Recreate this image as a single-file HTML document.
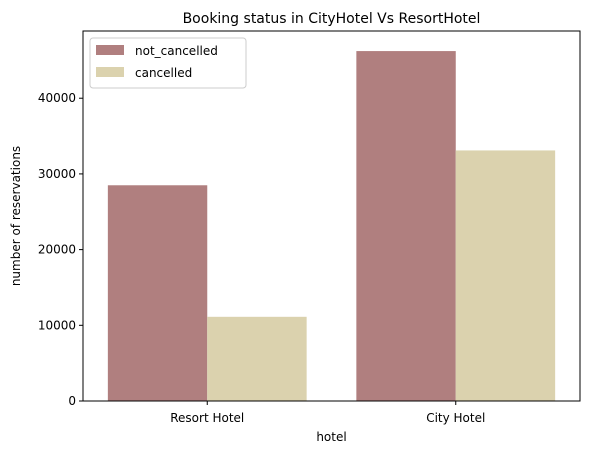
<!DOCTYPE html>
<html><head><meta charset="utf-8"><style>
body{margin:0;background:#fff;font-family:"Liberation Sans","DejaVu Sans",sans-serif}
</style></head><body>
<svg id="chart" width="589" height="455" xmlns="http://www.w3.org/2000/svg" font-family="DejaVu Sans, Liberation Sans, sans-serif">
</svg>
<script>
const categories = ["Resort Hotel", "City Hotel"];
const notCancelled = [28500, 46228];
const cancelled = [11122, 33102];
const yTicks = [0, 10000, 20000, 30000, 40000];
const seriesNames = ["not_cancelled", "cancelled"];

const svg = document.getElementById('chart');
const NS = 'http://www.w3.org/2000/svg';
const L = 83, R = 580, T = 31, B = 401;
const yMax = 48880;
const y = v => B - v / yMax * (B - T);
const x = i => L + (i + 0.5) / 2 * (R - L);
const bw = (R - L) / 2 * 0.4;
const colors = ["#b07f7f", "#dbd2ae"];

function mk(tag, attrs, parent) {
  const e = document.createElementNS(NS, tag);
  for (const k in attrs) e.setAttribute(k, attrs[k]);
  (parent || svg).appendChild(e);
  return e;
}

const title = mk('text', {x: (L + R) / 2, y: 23, 'text-anchor': 'middle', 'font-size': 14, fill: '#000'});
title.textContent = 'Booking status in CityHotel Vs ResortHotel';



[notCancelled, cancelled].forEach((series, s) => {
  series.forEach((v, i) => {
    const r = mk('rect', {x: x(i) - bw + s * bw, y: y(v), width: bw, height: B - y(v), fill: colors[s]});
    
    
  });
});

const frame = mk('rect', {x: L, y: T, width: R - L, height: B - T, fill: 'none', stroke: '#000', 'stroke-width': 1});



yTicks.forEach(t => {
  mk('line', {x1: L - 4, x2: L, y1: y(t), y2: y(t), stroke: '#000'});
  const lb = mk('text', {x: L - 7, y: y(t) + 4, 'text-anchor': 'end', 'font-size': 12});
  lb.textContent = t;
  
  
});
categories.forEach((c, i) => {
  mk('line', {x1: x(i), x2: x(i), y1: B, y2: B + 4, stroke: '#000'});
  const lb = mk('text', {x: x(i), y: B + 21, 'text-anchor': 'middle', 'font-size': 12});
  lb.textContent = c;
  
  
});

const xt = mk('text', {x: (L + R) / 2, y: 441, 'text-anchor': 'middle', 'font-size': 12});
xt.textContent = 'hotel';



const yt = mk('text', {x: 20, y: (T + B) / 2, 'text-anchor': 'middle', 'font-size': 12, transform: 'rotate(-90 20 ' + (T + B) / 2 + ')'});
yt.textContent = 'number of reservations';



const lg = mk('g', {});


mk('rect', {x: 90, y: 38, width: 156, height: 50, rx: 3, fill: '#fff', 'fill-opacity': 0.8, stroke: '#ccc'}, lg);
seriesNames.forEach((n, s) => {
  const g = mk('g', {}, lg);
  
  
  mk('rect', {x: 96, y: 45 + s * 22, width: 28, height: 10, fill: colors[s]}, g);
  const t = mk('text', {x: 135, y: 55 + s * 22, 'font-size': 12}, g);
  t.textContent = n;
});
</script>
</body></html>
